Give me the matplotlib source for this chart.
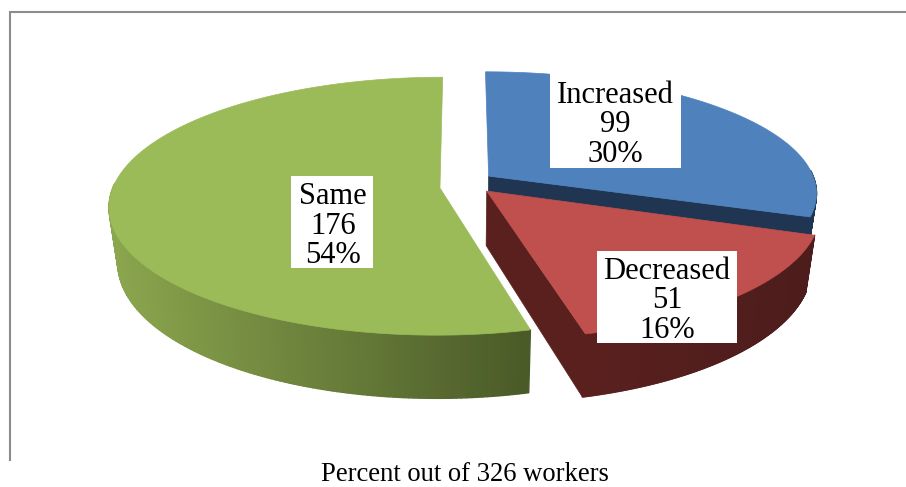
import numpy as np
import matplotlib
matplotlib.use("Agg")
import matplotlib.pyplot as plt
from matplotlib.collections import PolyCollection
from matplotlib.colors import to_rgb
from matplotlib.patches import Polygon, Rectangle

# Data
categories = ["Increased", "Decreased", "Same"]
counts = [99, 51, 176]
caption = "Percent out of 326 workers"

# Style and layout (pixel space of the figure)
top_colors = ["#4f81bd", "#c0504d", "#9bbb59"]
wall_left = ["#1f3552", "#5a201e", "#8ba64e"]
wall_right = ["#1f3552", "#4c1d1c", "#4a5a28"]
explode_x = [0.082, 0.075, -0.067]
explode_y = [0.056, -0.064, -0.04]
radius_x = [1.0, 1.0, 0.995]
radius_y = [0.96, 1.0, 1.0]
label_xy = [(615, 125), (667, 301), (333, 226)]
label_box = [(550, 72, 681, 168), (597, 251, 737, 343), (291, 176, 373, 268)]

CX, CY, A, B, K, DEPTH, SHRINK = 462, 183, 327, 125, 0.14, 54, 0.975

plt.rcParams["font.family"] = ["Liberation Serif", "DejaVu Serif"]
fig = plt.figure(figsize=(9.06, 4.87), dpi=100, facecolor="white")
ax = fig.add_axes([0, 0, 1, 1])
ax.set_xlim(0, 906)
ax.set_ylim(487, 0)
ax.axis("off")


def project(theta, radius, i, bottom=False):
    """Clockwise angle from 12 o'clock on the disc -> picture position."""
    u = radius * radius_x[i] * np.sin(theta) + explode_x[i]
    v = radius * radius_y[i] * np.cos(theta) + explode_y[i]
    w = 1 + K * v
    x = CX + A * u / w
    y = CY - B * v / w
    if bottom:
        x = CX + (x - CX) * SHRINK
        y = y + DEPTH / w
    return x, y


# Frame remains
ax.plot([10, 10, 906], [461, 12, 12], color="#8c8c8c", lw=1.5,
        solid_joinstyle="miter", solid_capstyle="butt")

total = sum(counts)
edges = 2 * np.pi * np.concatenate([[0], np.cumsum(counts)]) / total

for i in range(len(counts)):
    t0, t1 = edges[i], edges[i + 1]
    th = np.linspace(t0, t1, 240)
    c0, c1 = np.array(to_rgb(wall_left[i])), np.array(to_rgb(wall_right[i]))

    # Outer wall (front half only), shaded from left to right
    xt, yt = project(th, 1.0, i)
    xb, yb = project(th, 1.0, i, bottom=True)
    quads, cols = [], []
    xmin, xmax = xt.min(), xt.max()
    for j in range(len(th) - 1):
        if np.cos(th[j]) > 0.05 or np.cos(th[j + 1]) > 0.05:
            continue
        quads.append([(xt[j], yt[j]), (xt[j + 1], yt[j + 1]),
                      (xb[j + 1], yb[j + 1]), (xb[j], yb[j])])
        f = (xt[j] - xmin) / max(xmax - xmin, 1)
        cols.append(c0 + (c1 - c0) * f)
    ax.add_collection(PolyCollection(quads, facecolors=cols, edgecolors=cols,
                                     linewidths=1.0, zorder=2 + i))

    # Cut wall on the slice's closing edge
    if t1 < np.pi:
        p0 = project(t1, 0.0, i)
        p1 = project(t1, 1.0, i)
        p2 = project(t1, 1.0, i, bottom=True)
        p3 = project(t1, 0.0, i, bottom=True)
        ax.add_patch(Polygon([p0, p1, p2, p3], closed=True, facecolor=wall_left[i],
                             edgecolor=wall_left[i], lw=0.5, zorder=2 + i))

    # Top face
    centre = project(t0, 0.0, i)
    ax.add_patch(Polygon([centre] + list(zip(xt, yt)), closed=True,
                         facecolor=top_colors[i], edgecolor=top_colors[i],
                         lw=0.5, zorder=2 + i))

# Labels
for i, name in enumerate(categories):
    x0, y0, x1, y1 = label_box[i]
    ax.add_patch(Rectangle((x0, y0), x1 - x0, y1 - y0, facecolor="white",
                           edgecolor="none", zorder=10))
    pct = round(100 * counts[i] / total)
    ax.text(*label_xy[i], f"{name}\n{counts[i]}\n{pct}%", ha="center", va="center",
            fontsize=22, linespacing=1.04, color="black", zorder=11)

ax.text(464.5, 474.5, caption, ha="center", va="center", fontsize=19.2, color="black")

fig.savefig("out.png", dpi=100, facecolor="white")
